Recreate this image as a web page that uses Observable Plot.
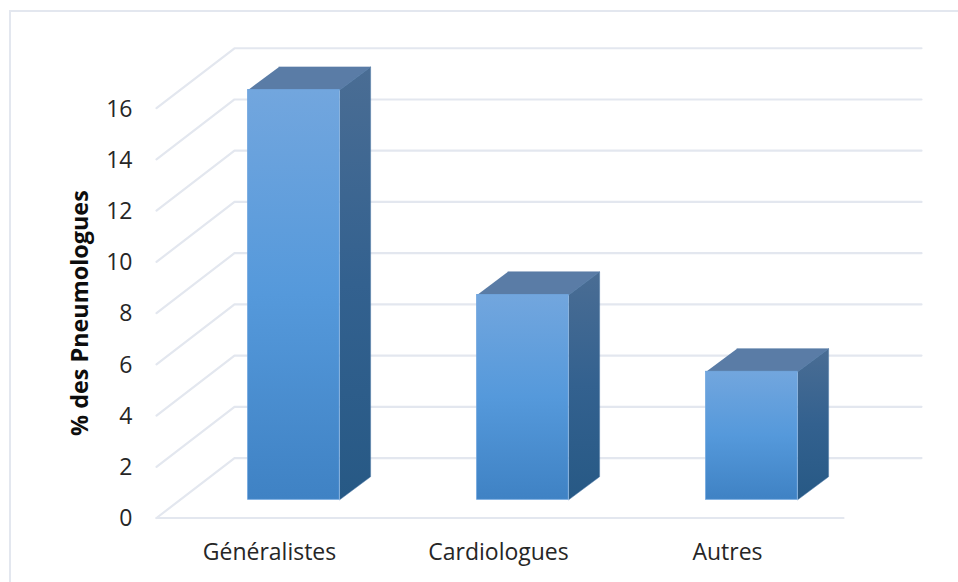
<!DOCTYPE html>
<html><head><meta charset="utf-8">
<script src="https://cdn.jsdelivr.net/npm/d3@7"></script>
<script src="https://cdn.jsdelivr.net/npm/@observablehq/plot@0.6"></script>
<style>
html,body{margin:0;padding:0;background:#fff;overflow:hidden;width:958px;height:582px}
#frame{position:absolute;left:9px;top:10px;width:960px;height:600px;border-left:2.5px solid #E3E7EF;border-top:2.5px solid #E3E7EF}
#chart{position:absolute;left:0;top:0}
svg{display:block;background:transparent}
</style></head><body>
<div id="frame"></div><div id="chart"></div>
<script>
const categories = ["Généralistes", "Cardiologues", "Autres"];
const percents = [16, 8, 5];
const yTicks = [0, 2, 4, 6, 8, 10, 12, 14, 16];
const yTitle = "% des Pneumologues";

// 3D projection, in scale units
const wallDx = 0.3406, wallDy = 2.34;      // front of floor -> back wall
const barDx = 0.135, barDy = 0.9;          // bar depth
const barWidth = 0.4, barShift = 0.1, barBase = 0.71;

const grid = yTicks.flatMap(t => [
  {t, x: 0, y: t},
  {t, x: wallDx, y: t + wallDy},
  {t, x: 3 + wallDx, y: t + wallDy}
]);
const floor = [{x: 0, y: 0}, {x: 3, y: 0}];

const bars = categories.map((c, i) => {
  const x1 = i + 0.5 + barShift - barWidth / 2, x2 = x1 + barWidth;
  return {c, x1, x2, y1: barBase, y2: percents[i] + barBase};
});
const side = bars.flatMap(b => [
  {c: b.c, x: b.x2, y: b.y1},
  {c: b.c, x: b.x2 + barDx, y: b.y1 + barDy},
  {c: b.c, x: b.x2 + barDx, y: b.y2 + barDy},
  {c: b.c, x: b.x2, y: b.y2}
]);
const top_ = bars.flatMap(b => [
  {c: b.c, x: b.x1, y: b.y2},
  {c: b.c, x: b.x2, y: b.y2},
  {c: b.c, x: b.x2 + barDx, y: b.y2 + barDy},
  {c: b.c, x: b.x1 + barDx, y: b.y2 + barDy}
]);

function defs() {
  const g = d3.create("svg:defs");
  const grad = (id, coords, stops) => {
    const l = g.append("linearGradient").attr("id", id)
      .attr("x1", coords[0]).attr("y1", coords[1]).attr("x2", coords[2]).attr("y2", coords[3]);
    stops.forEach(([o, c]) => l.append("stop").attr("offset", o).attr("stop-color", c));
  };
  grad("front", [0, 0, 0, 1], [[0, "#72A6DE"], [0.5, "#5599DB"], [1, "#3F82C4"]]);
  grad("side", [0, 0, 0, 1], [[0, "#4A6D94"], [0.5, "#33618F"], [1, "#275985"]]);
  return g.node();
}

const font = "'Open Sans', sans-serif";
const chart = Plot.plot({
  width: 958, height: 582,
  margin: 0,
  style: {background: "transparent", fontFamily: font},
  x: {domain: [0, 3], range: [156, 843], axis: null},
  y: {domain: [0, 16], range: [517.5, 107.7], axis: null},
  marks: [
    defs,
    Plot.line(grid, {x: "x", y: "y", z: "t", stroke: "#E3E7EF", strokeWidth: 2.2}),
    Plot.line(floor, {x: "x", y: "y", stroke: "#E3E7EF", strokeWidth: 2.2}),
    Plot.line(top_, {x: "x", y: "y", z: "c", fill: "#5A7CA6", stroke: "#5A7CA6", strokeWidth: 0.6}),
    Plot.line(side, {x: "x", y: "y", z: "c", fill: "url(#side)", stroke: "#4F7BA8", strokeWidth: 0.5}),
    Plot.rect(bars, {x1: "x1", x2: "x2", y1: "y1", y2: "y2", fill: "url(#front)", stroke: "#6FA5DE", strokeWidth: 0.8}),
    Plot.text(yTicks, {x: 0, y: d => d, text: d => String(d), textAnchor: "end", dx: -24, dy: 1,
      fontSize: 23, fill: "#262626", fontFamily: font}),
    Plot.text(categories, {x: (d, i) => i + 0.5, y: 0, text: d => d, dy: 35, dx: -1.5,
      fontSize: 23, fill: "#262626", fontFamily: font}),
    Plot.text([yTitle], {x: 0, y: 8, text: d => d, rotate: -90, dx: -76, dy: 0,
      fontSize: 23.4, fontWeight: 700, fill: "#0d0d0d", fontFamily: font})
  ]
});
document.getElementById("chart").appendChild(chart);
</script>
</body></html>
